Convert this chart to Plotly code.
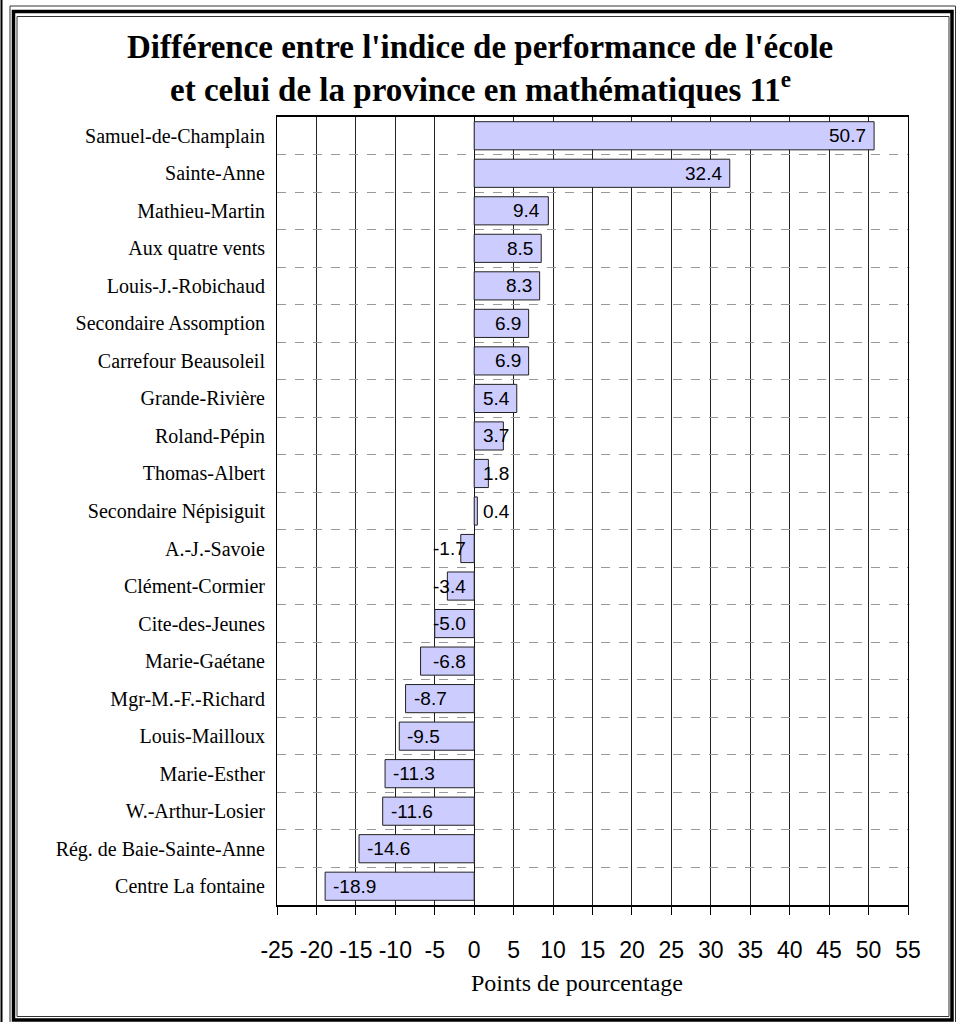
import plotly.graph_objects as go

schools = ["Samuel-de-Champlain", "Sainte-Anne", "Mathieu-Martin", "Aux quatre vents",
           "Louis-J.-Robichaud", "Secondaire Assomption", "Carrefour Beausoleil",
           "Grande-Rivière", "Roland-Pépin", "Thomas-Albert", "Secondaire Népisiguit",
           "A.-J.-Savoie", "Clément-Cormier", "Cite-des-Jeunes", "Marie-Gaétane",
           "Mgr-M.-F.-Richard", "Louis-Mailloux", "Marie-Esther", "W.-Arthur-Losier",
           "Rég. de Baie-Sainte-Anne", "Centre La fontaine"]
diffs = [50.7, 32.4, 9.4, 8.5, 8.3, 6.9, 6.9, 5.4, 3.7, 1.8, 0.4,
         -1.7, -3.4, -5.0, -6.8, -8.7, -9.5, -11.3, -11.6, -14.6, -18.9]
x_ticks = list(range(-25, 60, 5))
title_lines = ["Différence entre l'indice de performance de l'école",
               "et celui de la province en mathématiques 11<sup>e</sup>"]
x_title = "Points de pourcentage"

W, H = 958, 1022
L, R, T, B = 277, 50, 117, 117
PW, PH = W - L - R, H - T - B
XMIN, XMAX = -25, 55
scale = PW / (XMAX - XMIN)


def px2x(px):
    return (px - L) / PW


def px2y(py):
    return (H - B - py) / PH


fig = go.Figure()
fig.add_trace(go.Bar(
    y=schools, x=diffs, orientation="h",
    marker=dict(color="#CCCCFF", line=dict(color="#222222", width=1)),
    width=0.75, hoverinfo="x+y",
))

label_font = dict(family="Liberation Sans", size=19, color="black")
annotations = []
# bar value labels (Excel "inside end" behaviour)
for s, v in zip(schools, diffs):
    txt = f"{v:.1f}"
    tw = len(txt) * 10 + 2
    if v >= 0:
        if v * scale - 8 >= 8 + tw:
            annotations.append(dict(x=v, y=s, text=txt, xanchor="right", xshift=-6,
                                    showarrow=False, font=label_font))
        else:
            annotations.append(dict(x=0, y=s, text=txt, xanchor="left", xshift=7,
                                    showarrow=False, font=label_font))
    else:
        if -v * scale - 7 >= 7 + tw:
            annotations.append(dict(x=v, y=s, text=txt, xanchor="left", xshift=6,
                                    showarrow=False, font=label_font))
        else:
            annotations.append(dict(x=0, y=s, text=txt, xanchor="right", xshift=-6,
                                    showarrow=False, font=label_font))

# title lines
for line, ypx in zip(title_lines, [47, 87]):
    annotations.append(dict(xref="paper", yref="paper", x=px2x(480), y=px2y(ypx),
                            text=f"<b>{line}</b>", showarrow=False, xanchor="center", yanchor="middle",
                            font=dict(family="Liberation Serif", size=33, color="black")))
# x axis title
annotations.append(dict(xref="paper", yref="paper", x=px2x(577), y=px2y(983),
                        text=x_title, showarrow=False, xanchor="center", yanchor="middle",
                        font=dict(family="Liberation Serif", size=24, color="black")))

shapes = []
# decorative frame
shapes.append(dict(type="rect", xref="paper", yref="paper",
                   x0=px2x(10), x1=px2x(955.5), y0=px2y(6), y1=px2y(1023),
                   line=dict(color="#333333", width=1)))
shapes.append(dict(type="rect", xref="paper", yref="paper",
                   x0=px2x(13.5), x1=px2x(952), y0=px2y(11.5), y1=px2y(1020),
                   line=dict(color="black", width=3.5)))
shapes.append(dict(type="rect", xref="paper", yref="paper",
                   x0=px2x(17), x1=px2x(949), y0=px2y(16.5), y1=px2y(1016.5),
                   line=dict(color="#333333", width=1)))
shapes.append(dict(type="line", xref="paper", yref="paper",
                   x0=px2x(1.5), x1=px2x(1.5), y0=px2y(0), y1=px2y(1022),
                   line=dict(color="black", width=2)))

fig.update_layout(
    width=W, height=H,
    margin=dict(l=L, r=R, t=T, b=B, autoexpand=False),
    paper_bgcolor="white", plot_bgcolor="white",
    showlegend=False,
    annotations=annotations,
    shapes=shapes,
    bargap=0.25,
    xaxis=dict(
        range=[XMIN, XMAX], tickmode="array", tickvals=x_ticks,
        ticktext=[str(t) for t in x_ticks], tickangle=0,
        showgrid=True, gridcolor="#222222", gridwidth=1,
        zeroline=True, zerolinecolor="#111111", zerolinewidth=1,
        showline=True, linecolor="black", linewidth=1.5, mirror=True,
        ticks="outside", ticklen=8, tickcolor="black", tickwidth=1,
        ticklabelstandoff=16,
        tickfont=dict(family="Liberation Sans", size=23, color="black"),
        fixedrange=True,
    ),
    yaxis=dict(
        type="category", categoryorder="array", categoryarray=schools,
        autorange="reversed",
        tickson="boundaries",
        showgrid=True, gridcolor="#999999", gridwidth=1, griddash="dash",
        showline=True, linecolor="black", linewidth=1, mirror=True,
        ticks="", ticklabelstandoff=7,
        tickfont=dict(family="Liberation Serif", size=20, color="black"),
        fixedrange=True,
    ),
)

fig.write_html("out.html", config={"displayModeBar": False},
               post_script="document.body.style.margin='0';")
